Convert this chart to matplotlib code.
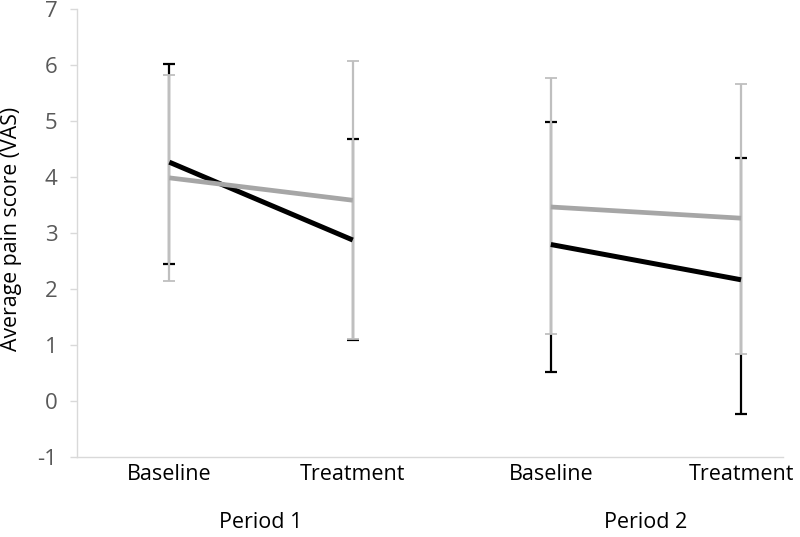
import numpy as np
import matplotlib.pyplot as plt

plt.rcParams['font.family'] = ['Open Sans', 'DejaVu Sans']
plt.rcParams['axes.unicode_minus'] = False

categories = ["Baseline", "Treatment", "Baseline", "Treatment"]
periods = ["Period 1", "Period 2"]

# black series: mean with lower/upper error-bar ends
black_mean = [4.27, 2.88, 2.80, 2.17]
black_upper = [6.03, 4.68, 4.99, 4.34]
black_lower = [2.46, 1.09, 0.53, -0.22]

# grey series
grey_mean = [3.99, 3.59, 3.47, 3.27]
grey_upper = [5.83, 6.07, 5.77, 5.66]
grey_lower = [2.14, 1.12, 1.20, 0.85]

# category positions on the axis (slightly uneven, as in the source)
xpos = np.array([0.0, 1.0, 2.08, 3.117])

fig = plt.figure(figsize=(8, 5.37), dpi=100)
ax = fig.add_axes([0.0959, 0.1484, 0.8829, 0.8343])

GREY_LINE = "#a6a6a6"
GREY_ERR = "#bfbfbf"

def yerr(mean, lower, upper):
    m = np.array(mean)
    return [m - np.array(lower), np.array(upper) - m]

ax.errorbar(xpos, black_mean, yerr=yerr(black_mean, black_lower, black_upper),
            fmt="none", ecolor="black", elinewidth=1.6, capsize=4, capthick=1.6, zorder=2)
ax.errorbar(xpos, grey_mean, yerr=yerr(grey_mean, grey_lower, grey_upper),
            fmt="none", ecolor=GREY_ERR, elinewidth=1.6, capsize=4, capthick=1.3, zorder=3)

# each period is drawn as its own segment
for p in range(2):
    sl = slice(2 * p, 2 * p + 2)
    ax.plot(xpos[sl], black_mean[sl], color="black", lw=3.6, solid_capstyle="butt", zorder=4)
    ax.plot(xpos[sl], grey_mean[sl], color=GREY_LINE, lw=3.4, solid_capstyle="butt", zorder=5)

ax.set_xlim(-0.505, 3.346)
ax.set_ylim(-1, 7)
ax.set_yticks(range(-1, 8))
ax.tick_params(axis="y", colors="#d9d9d9", labelcolor="#595959", labelsize=16,
               length=5, width=1, pad=9)
ax.set_xticks(xpos)
ax.set_xticklabels(categories)
ax.tick_params(axis="x", length=0, labelsize=15.5, labelcolor="black", pad=5)

for side in ["top", "right"]:
    ax.spines[side].set_visible(False)
for side in ["left", "bottom"]:
    ax.spines[side].set_color("#d9d9d9")
    ax.spines[side].set_linewidth(1)

ax.set_ylabel("Average pain score (VAS)", fontsize=15.3, color="black")
ax.yaxis.set_label_coords(-0.077, 0.51)

for p, name in enumerate(periods):
    xc = xpos[2 * p:2 * p + 2].mean()
    ax.annotate(name, xy=(xc, 0), xycoords=("data", "axes fraction"),
                xytext=(0, -47), textcoords="offset points", ha="center", va="center",
                fontsize=15.5, color="black")

fig.savefig("out.png", dpi=100)
